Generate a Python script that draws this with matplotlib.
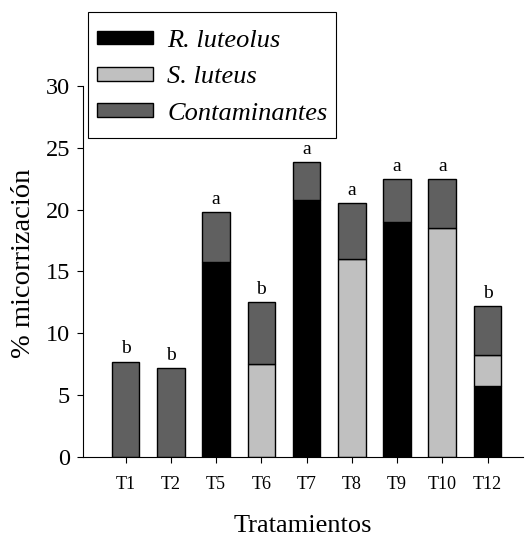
import matplotlib
matplotlib.use("Agg")
import matplotlib.pyplot as plt
from matplotlib.patches import Rectangle
import numpy as np

categories = ["T1", "T2", "T5", "T6", "T7", "T8", "T9", "T10", "T12"]
r_luteolus = [0, 0, 15.8, 0, 20.8, 0, 19.0, 0, 5.7]
s_luteus = [0, 0, 0, 7.5, 0, 16.0, 0, 18.5, 2.5]
contaminantes = [7.7, 7.15, 4.0, 5.0, 3.05, 4.5, 3.5, 4.0, 4.0]
letters = ["b", "b", "a", "b", "a", "a", "a", "a", "b"]
series_names = ["R. luteolus", "S. luteus", "Contaminantes"]

plt.rcParams['font.family'] = ['Liberation Serif', 'DejaVu Serif']

W, H = 527, 538
fig = plt.figure(figsize=(W / 100, H / 100), dpi=100)
ax = fig.add_axes([0.157, 0.151, 0.835, 0.689])

x = np.arange(len(categories))
w = 0.61
r = np.array(r_luteolus)
s = np.array(s_luteus)
c = np.array(contaminantes)
b1 = ax.bar(x, r, w, color='black', edgecolor='black', linewidth=1.0, label=series_names[0])
b2 = ax.bar(x, s, w, bottom=r, color='#c0c0c0', edgecolor='black', linewidth=1.0, label=series_names[1])
b3 = ax.bar(x, c, w, bottom=r + s, color='#606060', edgecolor='black', linewidth=1.0, label=series_names[2])

tot = r + s + c
for xi, t, l in zip(x, tot, letters):
    ax.annotate(l, (xi, t), xytext=(0, 3.0), textcoords='offset points',
                ha='center', va='bottom', fontsize=14)

ax.set_xlim(-0.95, 8.78)
ax.set_ylim(0, 30)
ax.set_yticks([0, 5, 10, 15, 20, 25, 30])
ax.set_xticks(x)
ax.set_xticklabels(categories, fontsize=13)
ax.tick_params(axis='y', labelsize=17.5, length=4, width=0.8, pad=5)
ax.tick_params(axis='x', length=4, width=0.8, pad=10)
for sp in ['top', 'right']:
    ax.spines[sp].set_visible(False)
ax.spines['left'].set_linewidth(0.8)
ax.spines['bottom'].set_linewidth(0.8)

ax.set_xlabel("Tratamientos", fontsize=19, labelpad=16)
ax.set_ylabel("% micorrización", fontsize=20.5)
ax.yaxis.set_label_coords(-0.106, 0.521)

leg = ax.legend(handles=[b1, b2, b3], loc='upper left',
                bbox_to_anchor=(97 / W, 1 - 29.8 / H), bbox_transform=fig.transFigure,
                prop={'style': 'italic', 'size': 19, 'family': 'Liberation Serif'},
                frameon=False,
                handlelength=2.12, handleheight=0.42, labelspacing=0.545, borderpad=0,
                handletextpad=0.55, borderaxespad=0)
leg.set_zorder(6)

frame = Rectangle((87.7 / W, 1 - 137.7 / H), (335.7 - 87.7) / W, (137.7 - 11.7) / H,
                  transform=fig.transFigure, facecolor='white', edgecolor='black',
                  linewidth=0.8, clip_on=False, zorder=5)
ax.add_patch(frame)

fig.savefig("out.png", dpi=100)
